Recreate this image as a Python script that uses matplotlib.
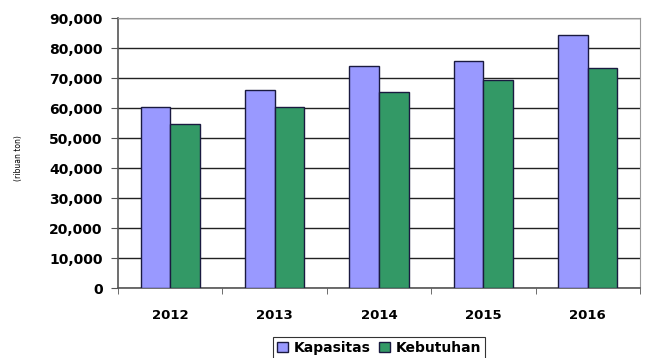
import matplotlib.pyplot as plt
import numpy as np
from matplotlib.ticker import FuncFormatter, MultipleLocator

years = ['2012', '2013', '2014', '2015', '2016']
kapasitas = [60300, 66000, 74100, 75600, 84400]
kebutuhan = [54800, 60200, 65200, 69200, 73200]

plt.rcParams['font.family'] = 'DejaVu Sans'

fig = plt.figure(figsize=(6.52, 3.58), dpi=100)
ax = fig.add_axes([118 / 652, 1 - 288 / 358, 522 / 652, 270 / 358])

x = np.arange(len(years))
w = 0.283
ax.bar(x - w / 2, kapasitas, w, color='#9999FF', edgecolor='#1a1a40', linewidth=1.0,
       label='Kapasitas', zorder=3)
ax.bar(x + w / 2, kebutuhan, w, color='#339966', edgecolor='#1a1a40', linewidth=1.0,
       label='Kebutuhan', zorder=3)

ax.set_xlim(-0.5, len(years) - 0.5)
ax.set_ylim(0, 90000)
ax.yaxis.set_major_locator(MultipleLocator(10000))
ax.yaxis.set_major_formatter(FuncFormatter(lambda v, p: f'{int(v):,}'))
ax.grid(axis='y', color='#222222', linewidth=1.0, zorder=0)

ax.set_xticks(x)
ax.set_xticklabels(years, fontsize=9.5, fontweight='bold')
ax.set_xticks(np.arange(len(years) + 1) - 0.5, minor=True)
ax.tick_params(axis='x', which='major', length=0, pad=15)
ax.tick_params(axis='x', which='minor', length=4, color='#555555', direction='out')
ax.tick_params(axis='y', length=5, color='#555555', labelsize=10, pad=6)
for t in ax.get_yticklabels():
    t.set_fontweight('bold')

for side in ['top', 'right']:
    ax.spines[side].set_color('#999999')
ax.spines['left'].set_color('#555555')
ax.spines['bottom'].set_color('#555555')
ax.spines['left'].set_linewidth(1.2)
ax.spines['bottom'].set_linewidth(1.2)

fig.text(19 / 652, 1 - 158 / 358, '(ribuan ton)', rotation=90, fontsize=5.5,
         ha='center', va='center')

leg = fig.legend(loc='center', bbox_to_anchor=(379 / 652, 1 - 348 / 358), ncol=2,
                 prop={'weight': 'bold', 'size': 10}, frameon=True,
                 fancybox=False, edgecolor='#000000', handlelength=0.8,
                 handleheight=0.8, handletextpad=0.4, columnspacing=0.6,
                 borderpad=0.3)
leg.get_frame().set_linewidth(0.8)

fig.savefig('out.png', dpi=100)
